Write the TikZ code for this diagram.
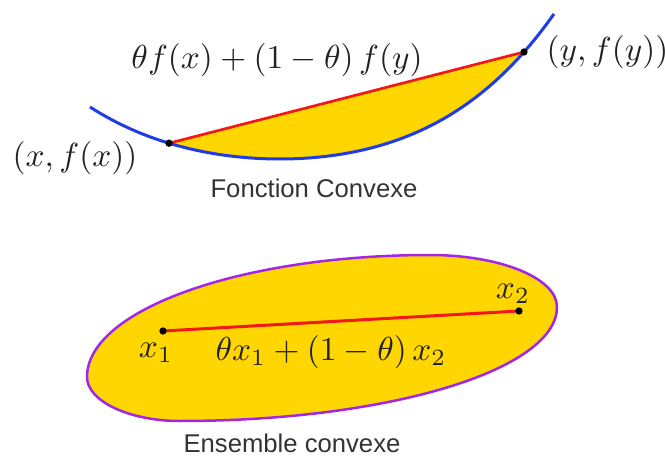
\documentclass[tikz,border=0pt]{standalone}
\usepackage{amsmath}
\usepackage{fontspec}
\newfontfamily\capfont{Liberation Sans}
\usetikzlibrary{positioning}
\definecolor{CurveBlue}{HTML}{1F3CE6}
\definecolor{ChordRed}{HTML}{F21818}
\definecolor{Gold}{HTML}{FFD600}
\definecolor{Violet}{HTML}{A326E8}
\definecolor{Ink}{HTML}{222222}
\definecolor{Caption}{HTML}{333333}

\begin{document}
\begin{tikzpicture}[x=0.3pt,y=-0.3pt,
        declare function={fc(\u)=159-(12.27*\u*\u+0.391*\u*\u*\u+0.7965*\u*\u*\u*\u);},
        dot/.style={circle,fill=black,inner sep=0pt,minimum size=2.2pt},
        chord/.style={ChordRed,line width=0.8pt},
        lbl/.style={text=Ink,inner sep=0pt,font=\fontsize{10}{12}\selectfont},
        caption/.style={text=Caption,inner sep=0pt,font=\capfont\fontsize{7.7}{9}\selectfont}
      ]
        \useasboundingbox (0,0) rectangle (665,457);
        % convex function
        \coordinate (fx) at (169,143.2);
        \coordinate (fy) at (524,52);
        \begin{scope}
          \clip plot[domain=-1.9:2.74,samples=80] ({280+100*\x},{fc(\x)}) -- (554,0) -- (90,0) -- cycle;
          \fill[Gold] (fx) -- (fy) -- (524,200) -- (169,200) -- cycle;
        \end{scope}
        \draw[CurveBlue,line width=0.9pt] plot[domain=-1.9:2.74,samples=80] ({280+100*\x},{fc(\x)});
        \draw[chord] (fx) -- (fy);
        \node[dot] (ptx) at (fx) {};
        \node[dot] (pty) at (fy) {};
        \node[lbl] (lfx) at (75,158) {$(x,f(x))$};
        \node[lbl,font=\fontsize{9.8}{12}\selectfont,right=5.3pt of pty] (lfy) {$(y,f(y))$};
        \node[lbl] (lmix) at (277,60) {$\theta f(x)+(1-\theta)\,f(y)$};
        \node[caption] (capf) at (314,188.5) {Fonction Convexe};
        % convex set
        \filldraw[fill=Gold,draw=Violet,line width=0.75pt]
          (87,377) .. controls (87,310) and (241,255) .. (430,255)
          .. controls (500,255) and (557,278) .. (557,307)
          .. controls (557,370) and (388,421) .. (180,421)
          .. controls (129,421) and (87,401) .. cycle;
        \coordinate (s1) at (163,331);
        \coordinate (s2) at (519,311);
        \draw[chord,line width=0.9pt] (s1) -- (s2);
        \node[dot] (ps1) at (s1) {};
        \node[dot] (ps2) at (s2) {};
        \node[lbl] (lx1) at (156,353) {$x_1$};
        \node[lbl] (lx2) at (513,294) {$x_2$};
        \node[lbl] (lsum) at (331,352) {$\theta x_1+(1-\theta)\,x_2$};
        \node[caption] (caps) at (292,443) {Ensemble convexe};
      \end{tikzpicture}
\end{document}
